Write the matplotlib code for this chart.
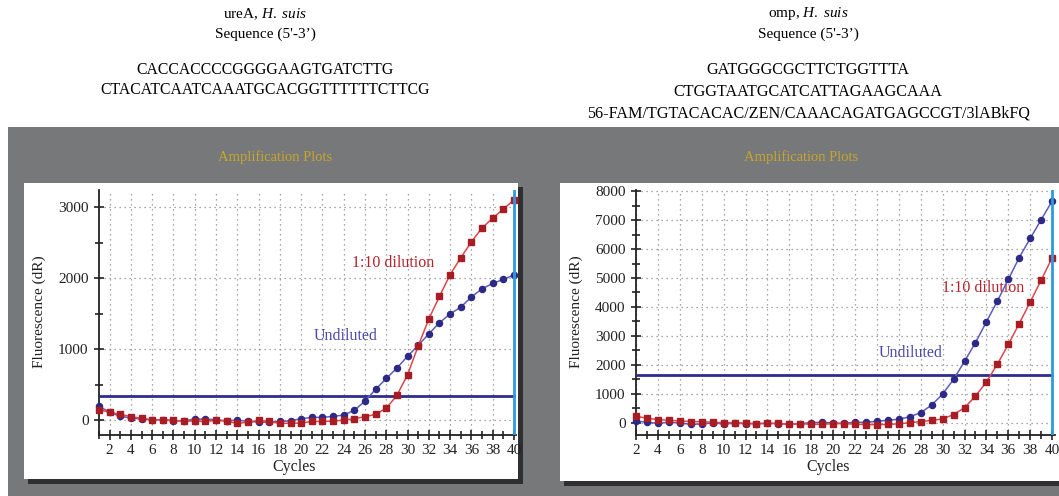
import matplotlib
matplotlib.use('Agg')
import matplotlib.pyplot as plt
from matplotlib.patches import Rectangle
from matplotlib.ticker import MultipleLocator

plt.rcParams['font.family'] = ['Liberation Serif', 'DejaVu Serif']
plt.rcParams['mathtext.fontset'] = 'custom'
plt.rcParams['mathtext.rm'] = 'Liberation Serif'
plt.rcParams['mathtext.it'] = 'Liberation Serif:italic'

# ---------------- data ----------------
ure_cycles = list(range(1, 41))
ure_undiluted = [195, 110, 52, 29, 14, 0, 5, -10, -10, 14, 14, 5, -10, 0, -19, -29, -29, -19, -10, 19,
                 38, 38, 52, 71, 138, 267, 433, 586, 733, 900, 1052, 1214, 1371, 1495, 1590, 1733, 1848, 1924, 1981, 2043]
ure_dilution = [148, 110, 81, 48, 24, 5, 5, -5, -14, -14, -19, -5, -14, -48, -29, -5, -19, -48, -43, -43,
                -19, -19, -14, 0, 19, 48, 81, 167, 348, 638, 1043, 1424, 1743, 2048, 2286, 2510, 2705, 2843, 2971, 3100]
ure_threshold = 335

omp_cycles = list(range(2, 41))
omp_undiluted = [70, 23, -12, 23, 0, -47, -35, 0, -35, -12, -23, -23, -12, -23, -47, -23, 12, 23, 0, -12,
                 23, 23, 58, 93, 128, 215, 355, 617, 996, 1502, 2125, 2771, 3487, 4204, 4949, 5706, 6364, 7010, 7650]
omp_dilution = [233, 163, 117, 93, 70, 47, 47, 23, 12, 12, -12, -23, -12, -12, -47, -23, -47, -47, -23, -23,
                -40, -58, -58, -47, -30, 10, 47, 88, 140, 290, 525, 925, 1415, 2025, 2708, 3430, 4170, 4925, 5695]
omp_threshold = 1650

ure_title = ["ureA, $\\mathit{H.\\ suis}$", "Sequence (5'-3\u2019)"]
ure_seqs = ["CACCACCCCGGGGAAGTGATCTTG", "CTACATCAATCAAATGCACGGTTTTTTCTTCG"]
omp_title = ["omp, $\\mathit{H.\\ suis}$", "Sequence (5'-3\u2019)"]
omp_seqs = ["GATGGGCGCTTCTGGTTTA", "CTGGTAATGCATCATTAGAAGCAAA",
            "56-FAM/TGTACACAC/ZEN/CAAACAGATGAGCCGT/3lABkFQ"]

# ---------------- figure ----------------
W, H = 1059, 496
fig = plt.figure(figsize=(W / 100, H / 100), dpi=100)


def fx(x):
    return x / W


def fy(y):
    return 1 - y / H


def rect(x0, y0, x1, y1, color, z):
    fig.patches.append(Rectangle((fx(x0), fy(y1)), (x1 - x0) / W, (y1 - y0) / H,
                                 transform=fig.transFigure, color=color, zorder=z, lw=0))


# gray background and panels
rect(8, 127, 1059, 496, '#77787a', 0)
rect(28, 187, 523, 484, '#2f2f31', 1)
rect(24, 183, 518, 479, 'white', 2)
rect(564, 187, 1064, 486, '#2f2f31', 1)
rect(560, 183, 1059, 481, 'white', 2)

# top texts
LC, RC = 265, 808
fig.text(fx(LC), fy(14), ure_title[0], ha='center', va='center', fontsize=11)
fig.text(fx(LC), fy(34), ure_title[1], ha='center', va='center', fontsize=11)
for i, s in enumerate(ure_seqs):
    fig.text(fx(LC), fy(70 + 20 * i), s, ha='center', va='center', fontsize=11.3)
fig.text(fx(RC), fy(14), omp_title[0], ha='center', va='center', fontsize=11)
fig.text(fx(RC), fy(34), omp_title[1], ha='center', va='center', fontsize=11)
for i, s in enumerate(omp_seqs):
    fig.text(fx(RC), fy(70 + 21.5 * i), s, ha='center', va='center', fontsize=11.6)

gold = '#c8a62a'
fig.text(fx(275), fy(157), 'Amplification Plots', ha='center', va='center', fontsize=10.5, color=gold)
fig.text(fx(801), fy(157), 'Amplification Plots', ha='center', va='center', fontsize=10.5, color=gold)

blue_m = '#2c2a86'
blue_l = '#5d5cc0'
red_m = '#a81c24'
red_l = '#dc474c'
thr_c = '#2e2c8e'
vline_c = '#2f9ae0'


def make_axes(left_px, per_cycle, x0, x1, y0, y1, top_px, bottom_px, ymajor):
    width_px = (x1 - x0) * per_cycle
    ax = fig.add_axes([fx(left_px), fy(bottom_px), width_px / W, (bottom_px - top_px) / H], zorder=5)
    ax.set_facecolor('none')
    ax.set_xlim(x0, x1)
    ax.set_ylim(y0, y1)
    for s in ['top', 'right']:
        ax.spines[s].set_visible(False)
    for s in ['left', 'bottom']:
        ax.spines[s].set_linewidth(1.3)
        ax.spines[s].set_color('#222222')
    ax.xaxis.set_major_locator(MultipleLocator(2))
    ax.xaxis.set_minor_locator(MultipleLocator(1))
    ax.yaxis.set_major_locator(MultipleLocator(ymajor))
    ax.yaxis.set_minor_locator(MultipleLocator(ymajor / 2))
    ax.tick_params(which='both', direction='inout', color='#222222', width=1.2, labelsize=11,
                   labelcolor='#222222')
    ax.tick_params(which='major', length=7)
    ax.tick_params(which='minor', length=6)
    ax.tick_params(axis='y', pad=4)
    ax.tick_params(axis='x', pad=3)
    ax.grid(which='major', linestyle=(0, (1, 3)), color='#8a8a8a', linewidth=0.9)
    ax.set_axisbelow(True)
    return ax


def draw(ax, cycles, und, dil, thr):
    ax.plot([cycles[0], 40], [thr, thr], color=thr_c, lw=2, zorder=3)
    ax.plot(cycles, und, '-', color=blue_l, lw=1.1, zorder=4)
    ax.plot(cycles, und, 'o', color=blue_m, ms=4.4, zorder=5, clip_on=False)
    ax.plot(cycles, dil, '-', color=red_l, lw=1.1, zorder=6)
    ax.plot(cycles, dil, 's', color=red_m, ms=4.4, zorder=7, clip_on=False)
    ax.axvline(40, color=vline_c, lw=2, zorder=8)


# left axes (ureA)
axL = make_axes(99, 10.64, 1, 40.2, -210, 3240, 190, 435, 1000)
draw(axL, ure_cycles, ure_undiluted, ure_dilution, ure_threshold)
axL.text(28.6, 2210, '1:10 dilution', color='#b3232c', fontsize=11.5, ha='center', va='center')
axL.text(24.2, 1183, 'Undiluted', color='#4b49aa', fontsize=11.5, ha='center', va='center')

# right axes (omp)
axR = make_axes(636, 10.95, 2, 40.3, -415, 8035, 190, 435, 1000)
draw(axR, omp_cycles, omp_undiluted, omp_dilution, omp_threshold)
axR.text(33.7, 4655, '1:10 dilution', color='#b3232c', fontsize=11.5, ha='center', va='center')
axR.text(27.1, 2414, 'Undiluted', color='#4b49aa', fontsize=11.5, ha='center', va='center')

# axis titles
fig.text(fx(39), fy(312), 'Fluorescence (dR)', rotation=90, ha='center', va='center', fontsize=11, color='#222222')
fig.text(fx(576), fy(312), 'Fluorescence (dR)', rotation=90, ha='center', va='center', fontsize=11, color='#222222')
fig.text(fx(294), fy(467), 'Cycles', ha='center', va='center', fontsize=11.5, color='#222222')
fig.text(fx(828), fy(467), 'Cycles', ha='center', va='center', fontsize=11.5, color='#222222')

fig.savefig('out.png', dpi=100)
